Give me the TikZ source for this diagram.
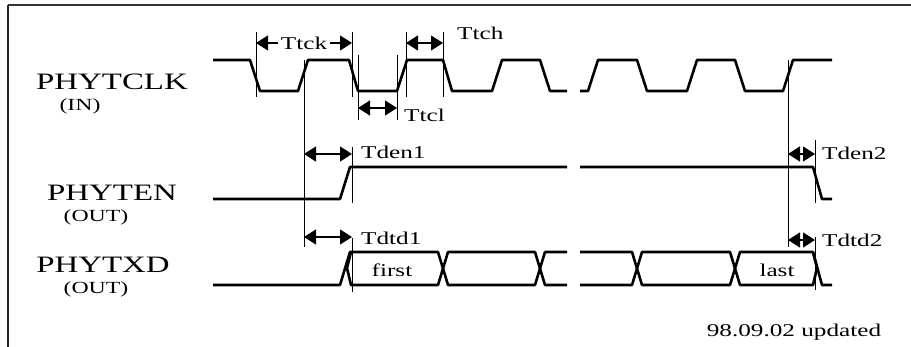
\documentclass[tikz,border=0pt]{standalone}
\usepackage{fontspec}
\setmainfont{Liberation Serif}
\usepackage{graphicx}
\usetikzlibrary{arrows.meta}

\newcommand{\wide}[1]{\scalebox{1.4}[1]{#1}}

\begin{document}
\begin{tikzpicture}[
                    x=1pt, y=-1pt,
                    >={Triangle[length=12pt,width=15pt]},
                    wave/.style={line width=2.6pt, line join=round},
                    guide/.style={line width=0.8pt},
                    dim/.style={<->, line width=1.2pt},
                    sig/.style={font=\fontsize{23.5}{23.5}\selectfont, inner sep=0pt, anchor=base},
                    dir/.style={font=\fontsize{17}{17}\selectfont, inner sep=0pt, anchor=base},
                    tlab/.style={font=\fontsize{18}{18}\selectfont, inner sep=0pt, anchor=west}
                ]
                \useasboundingbox (0,0) rectangle (911,347);

                % frame
                \draw[line width=2pt, black!80] (8,5) -- (911,5);
                \draw[line width=1.3pt, black!85] (8,5) -- (8,347);

                % signal names
                \node[sig] (clk) at (112,90) {\wide{PHYTCLK}};
                \node[dir] (clkdir) at (80,111) {\wide{(IN)}};
                \node[sig] (en) at (112,201) {\wide{PHYTEN}};
                \node[dir] (endir) at (96,222) {\wide{(OUT)}};
                \node[sig] (txd) at (103,273) {\wide{PHYTXD}};
                \node[dir] (txddir) at (96,294) {\wide{(OUT)}};

                % PHYTCLK
                \draw[wave] (213,60) -- (250,60) -- (260,91) -- (298,91) -- (308,60) -- (349,60)
                    -- (358,91) -- (397,91) -- (407,60) -- (443,60) -- (452,91) -- (492,91)
                    -- (502,60) -- (540,60) -- (550,91) -- (567,91);
                \draw[wave] (580,91) -- (588,91) -- (598,60) -- (637,60) -- (647,91) -- (687,91)
                    -- (697,60) -- (735,60) -- (745,91) -- (783,91) -- (793,60) -- (832,60);

                % PHYTEN
                \draw[wave] (213,199) -- (340,199) -- (350,167) -- (567,167);
                \draw[wave] (580,167) -- (813,167) -- (822,199) -- (832,199);

                % PHYTXD
                \draw[wave] (213,285) -- (340,285) -- (350,252) -- (438,252) -- (448,285)
                    -- (535,285) -- (545,252) -- (567,252);
                \draw[wave] (351,252) -- (347,268) -- (351,285) -- (438,285) -- (448,252)
                    -- (535,252) -- (545,285) -- (567,285);
                \draw[wave] (580,252) -- (632,252) -- (642,285) -- (730,285) -- (740,252)
                    -- (813,252) -- (822,285) -- (832,285);
                \draw[wave] (580,285) -- (632,285) -- (642,252) -- (730,252) -- (740,285)
                    -- (813,285) -- (817,268) -- (813,252);
                \node[tlab, anchor=center] (first) at (392,270) {\wide{first}};
                \node[tlab, anchor=center] (last) at (777,270) {\wide{last}};

                % guide lines
                \draw[guide] (256,32) -- (256,97);
                \draw[guide] (352,32) -- (352,97);
                \draw[guide] (358,55) -- (358,120);
                \draw[guide] (397,55) -- (397,120);
                \draw[guide] (406,32) -- (406,97);
                \draw[guide] (443,32) -- (443,97);
                \draw[guide] (304,60) -- (304,247);
                \draw[guide] (352,147) -- (352,203);
                \draw[guide] (352,238) -- (352,292);
                \draw[guide] (788,60) -- (788,247);
                \draw[guide] (815,140) -- (815,203);
                \draw[guide] (815,237) -- (815,290);

                % timing arrows
                \coordinate (ckL) at (256,43);
                \coordinate (ckR) at (352,43);
                \coordinate (chL) at (406,43);
                \coordinate (chR) at (443,43);
                \coordinate (clL) at (358,108);
                \coordinate (clR) at (397,108);
                \coordinate (en1L) at (304,154);
                \coordinate (en1R) at (352,154);
                \coordinate (td1L) at (304,237);
                \coordinate (td1R) at (352,237);
                \coordinate (en2L) at (788,154);
                \coordinate (en2R) at (815,154);
                \coordinate (td2L) at (788,240);
                \coordinate (td2R) at (815,240);

                \draw[dim] (ckL) -- node[tlab, anchor=center, fill=white, inner sep=3pt] (ttck) {\wide{Ttck}} (ckR);
                \draw[dim] (chL) -- (chR);
                \draw[dim] (clL) -- (clR);
                \draw[dim] (en1L) -- (en1R);
                \draw[dim] (td1L) -- (td1R);
                \draw[dim] (en2L) -- (en2R);
                \draw[dim] (td2L) -- (td2R);

                \node[tlab] (ttch) at (457,33) {\wide{Ttch}};
                \node[tlab] (ttcl) at (404,115) {\wide{Ttcl}};
                \node[tlab] (tden1) at (361,152) {\wide{Tden1}};
                \node[tlab] (tdtd1) at (361,238) {\wide{Tdtd1}};
                \node[tlab] (tden2) at (822,153) {\wide{Tden2}};
                \node[tlab] (tdtd2) at (822,240) {\wide{Tdtd2}};

                % footer
                \node[tlab, anchor=center] (upd) at (794,332) {\wide{98.09.02 updated}};
            \end{tikzpicture}
\end{document}
